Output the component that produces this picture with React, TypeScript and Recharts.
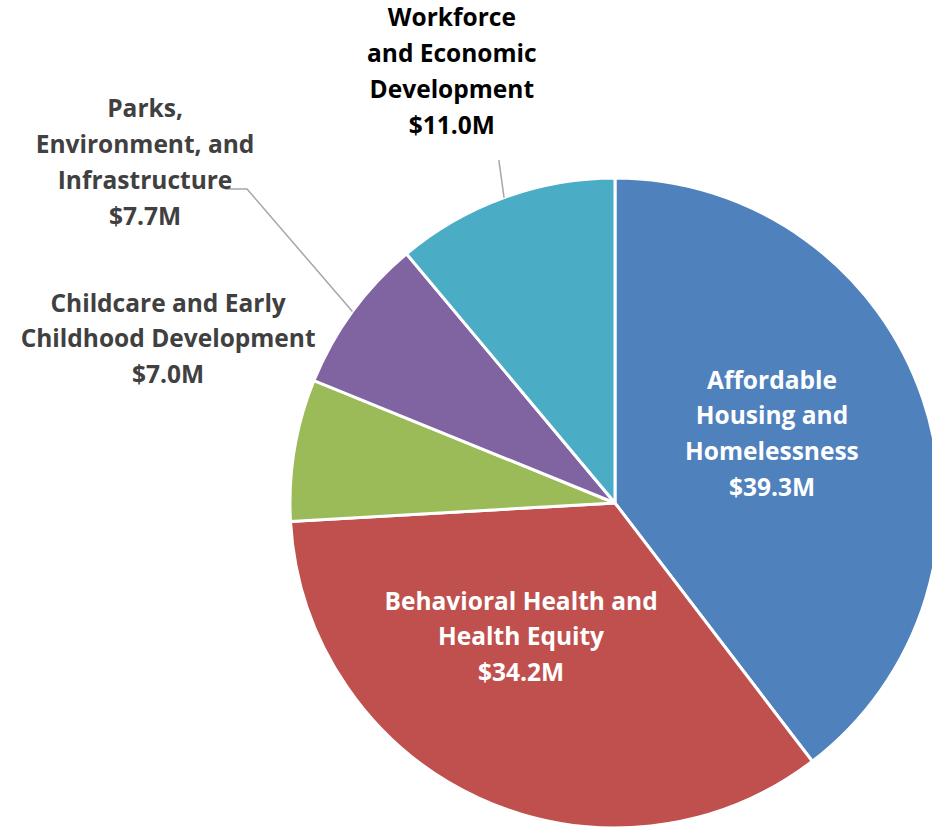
import React from "react";
import { PieChart, Pie, Cell } from "recharts";

// slices in order, clockwise from 12 o'clock
const categories = [
  "Affordable Housing and Homelessness",
  "Behavioral Health and Health Equity",
  "Childcare and Early Childhood Development",
  "Parks, Environment, and Infrastructure",
  "Workforce and Economic Development",
];
const values = [39.3, 34.2, 7.0, 7.7, 11.0];
const labelLines = [
  ["Affordable", "Housing and", "Homelessness"],
  ["Behavioral Health and", "Health Equity"],
  ["Childcare and Early", "Childhood Development"],
  ["Parks,", "Environment, and", "Infrastructure"],
  ["Workforce", "and Economic", "Development"],
];
const colors = ["#4F81BD", "#C0504D", "#9BBB59", "#8064A2", "#4BACC6"];

// label placement relative to the pie centre, in units of the radius
const labelPos = [
  { fx: 0.483, fy: -0.214, fill: "#FFFFFF" },
  { fx: -0.289, fy: 0.411, fill: "#FFFFFF" },
  { fx: -1.375, fy: -0.506, fill: "#404040" },
  { fx: -1.446, fy: -1.049, fill: "#404040", elbow: [[102, 27], [80, 27]] },
  { fx: -0.502, fy: -1.329, fill: "#000000", elbow: [[47, 89]] },
];

const data = categories.map((name, i) => ({
  name,
  value: values[i],
  lines: [...labelLines[i], `$${values[i].toFixed(1)}M`],
}));

const FONT = "'Open Sans', Lato, sans-serif";
const FS = 24.5;
const LH = 35.8;
const RAD = Math.PI / 180;

const renderLabel = (props: any) => {
  const { cx, cy, outerRadius, midAngle, index, payload } = props;
  const pos = labelPos[index];
  const lx = cx + pos.fx * outerRadius;
  const ly = cy + pos.fy * outerRadius;
  const lines: string[] = payload.lines ?? data[index].lines;
  const y0 = ly - ((lines.length - 1) / 2) * LH + FS * 0.36;
  let leader = null;
  if (pos.elbow) {
    const ex = cx + outerRadius * Math.cos(-midAngle * RAD);
    const ey = cy + outerRadius * Math.sin(-midAngle * RAD);
    const pts = [[ex, ey], ...pos.elbow.map(([dx, dy]) => [lx + dx, ly + dy])];
    leader = (
      <polyline
        points={pts.map((p) => p.join(",")).join(" ")}
        fill="none"
        stroke="#A6A6A6"
        strokeWidth={1.5}
      />
    );
  }
  return (
    <g key={`lbl-${index}`}>
      {leader}
      <text
        x={lx}
        y={y0}
        textAnchor="middle"
        fill={pos.fill}
        fontFamily={FONT}
        fontWeight={700}
        fontSize={FS}
      >
        {lines.map((t, i) => (
          <tspan key={i} x={lx} y={y0 + i * LH}>
            {t}
          </tspan>
        ))}
      </text>
    </g>
  );
};

export default function App() {
  return (
    <div style={{ position: "absolute", left: 0, top: 0, width: 932, height: 829, background: "#fff" }}>
      <PieChart width={932} height={829} margin={{ top: 0, right: 0, bottom: 0, left: 0 }}>
        <Pie
          data={data}
          dataKey="value"
          nameKey="name"
          cx={615}
          cy={503}
          outerRadius={325}
          startAngle={90}
          endAngle={-270}
          stroke="#FFFFFF"
          strokeWidth={3}
          label={renderLabel}
          labelLine={false}
          isAnimationActive={false}
        >
          {data.map((d, i) => (
            <Cell key={d.name} fill={colors[i]} />
          ))}
        </Pie>
      </PieChart>
    </div>
  );
}
